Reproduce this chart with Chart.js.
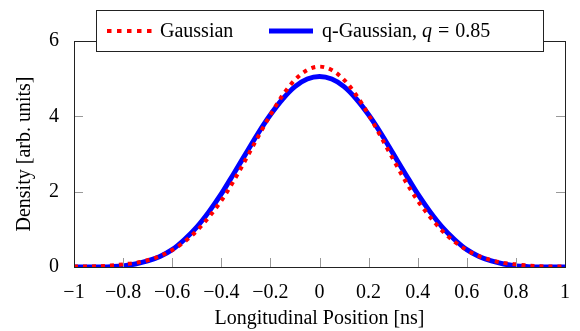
<!DOCTYPE html>
<html><head><meta charset="utf-8">
<script src="https://cdn.jsdelivr.net/npm/chart.js@4.4.1/dist/chart.umd.min.js"></script>
<style>html,body{margin:0;padding:0;background:#fff}#wrap{width:580px;height:331px}</style>
</head><body><div id="wrap"><canvas id="c" width="580" height="331"></canvas></div>
<script>
const positions = [-1, -0.95, -0.9, -0.85, -0.8, -0.75, -0.7, -0.65, -0.6, -0.55, -0.5, -0.45, -0.4, -0.35, -0.3, -0.25, -0.2, -0.15, -0.1, -0.05, 0,
  0.05, 0.1, 0.15, 0.2, 0.25, 0.3, 0.35, 0.4, 0.45, 0.5, 0.55, 0.6, 0.65, 0.7, 0.75, 0.8, 0.85, 0.9, 0.95, 1];
const gaussian = [0.01, 0.01, 0.02, 0.04, 0.07, 0.11, 0.18, 0.29, 0.45, 0.67, 0.96, 1.33, 1.76, 2.28, 2.86, 3.46, 4.04, 4.56, 4.97, 5.23, 5.32,
  5.23, 4.97, 4.56, 4.04, 3.46, 2.86, 2.28, 1.76, 1.33, 0.96, 0.67, 0.45, 0.29, 0.18, 0.11, 0.07, 0.04, 0.02, 0.01, 0.01];
const qGaussian = [0, 0, 0, 0.01, 0.03, 0.08, 0.16, 0.28, 0.46, 0.73, 1.06, 1.47, 1.94, 2.47, 3.01, 3.55, 4.04, 4.46, 4.79, 4.99, 5.06,
  4.99, 4.79, 4.46, 4.04, 3.55, 3.01, 2.47, 1.94, 1.47, 1.06, 0.73, 0.46, 0.28, 0.16, 0.08, 0.03, 0.01, 0, 0, 0];
const xTicks = [-1, -0.8, -0.6, -0.4, -0.2, 0, 0.2, 0.4, 0.6, 0.8, 1];
const yTicks = [0, 2, 4, 6];
const seriesLabels = ['Gaussian', 'q-Gaussian, q = 0.85'];
const xTitle = 'Longitudinal Position [ns]';
const yTitle = 'Density [arb. units]';

const FONT = "'Liberation Serif', 'Times New Roman', serif";
function fmt(v) {
  const r = Math.round(v * 10) / 10;
  if (r === 0) return '0';
  return (r < 0 ? '\u2212' : '') + String(Math.abs(r));
}

const framePlugin = {
  id: 'frameAndLegend',
  afterDatasetsDraw(chart) {
    const { ctx, chartArea: { left, right, top, bottom }, scales: { x, y } } = chart;
    ctx.save();
    ctx.setLineDash([]);
    ctx.lineWidth = 1;
    ctx.strokeStyle = '#999';
    const L = 9;
    xTicks.forEach(v => {
      if (v === xTicks[0] || v === xTicks[xTicks.length - 1]) return;
      const px = Math.round(x.getPixelForValue(v)) + 0.5;
      ctx.beginPath();
      ctx.moveTo(px, bottom); ctx.lineTo(px, bottom - L);
      ctx.moveTo(px, top); ctx.lineTo(px, top + L);
      ctx.stroke();
    });
    yTicks.forEach(v => {
      if (v === yTicks[0] || v === yTicks[yTicks.length - 1]) return;
      const py = Math.round(y.getPixelForValue(v)) + 0.5;
      ctx.beginPath();
      ctx.moveTo(left, py); ctx.lineTo(left + L, py);
      ctx.moveTo(right, py); ctx.lineTo(right - L, py);
      ctx.stroke();
    });
    ctx.strokeStyle = '#222';
    ctx.strokeRect(Math.round(left) + 0.5, Math.round(top) + 0.5, Math.round(right - left), Math.round(bottom - top));

    // legend
    const bx = 96, by = 10, bw = 447, bh = 41;
    ctx.fillStyle = '#fff';
    ctx.fillRect(bx, by, bw, bh);
    ctx.strokeStyle = '#222';
    ctx.strokeRect(bx + 0.5, by + 0.5, bw, bh);
    const ly = 31;
    ctx.lineCap = 'butt';
    ctx.strokeStyle = chart.data.datasets[0].borderColor;
    ctx.lineWidth = 4;
    ctx.setLineDash([4.5, 5.5]);
    ctx.beginPath(); ctx.moveTo(107, ly); ctx.lineTo(152, ly); ctx.stroke();
    ctx.setLineDash([]);
    ctx.strokeStyle = chart.data.datasets[1].borderColor;
    ctx.lineWidth = 5;
    ctx.beginPath(); ctx.moveTo(269, ly); ctx.lineTo(313, ly); ctx.stroke();

    ctx.fillStyle = '#000';
    ctx.textBaseline = 'alphabetic';
    ctx.textAlign = 'left';
    const reg = '20px ' + FONT, ita = 'italic 20px ' + FONT;
    ctx.font = reg;
    ctx.fillText(seriesLabels[0], 160, 37);
    const parts = seriesLabels[1].split(', ');
    const m = parts[1].match(/^(\S+)\s*=\s*(.*)$/);
    const segs = [
      { t: parts[0] + ',', f: reg, gap: 5 },
      { t: m[1], f: ita, gap: 6 },
      { t: '=', f: reg, gap: 6 },
      { t: m[2], f: reg, gap: 0 }
    ];
    let cx = 322;
    segs.forEach(s => {
      ctx.font = s.f;
      ctx.fillText(s.t, cx, 37);
      cx += ctx.measureText(s.t).width + s.gap;
    });
    ctx.restore();
  }
};

new Chart(document.getElementById('c'), {
  type: 'line',
  data: {
    datasets: [
      {
        label: seriesLabels[0],
        data: positions.map((p, i) => ({ x: p, y: gaussian[i] })),
        borderColor: '#ff0000',
        borderWidth: 4,
        borderDash: [4, 5],
        borderCapStyle: 'butt',
        pointRadius: 0,
        cubicInterpolationMode: 'monotone',
        fill: false,
        clip: 0
      },
      {
        label: seriesLabels[1],
        data: positions.map((p, i) => ({ x: p, y: qGaussian[i] })),
        borderColor: '#0000ff',
        borderWidth: 5,
        pointRadius: 0,
        cubicInterpolationMode: 'monotone',
        fill: false,
        clip: 0
      }
    ]
  },
  options: {
    responsive: false,
    animation: false,
    devicePixelRatio: 1,
    layout: { padding: { top: 41, right: 15, left: 0, bottom: 0 } },
    plugins: { legend: { display: false }, tooltip: { enabled: false } },
    scales: {
      x: {
        type: 'linear', min: -1, max: 1,
        afterBuildTicks: s => { s.ticks = xTicks.map(v => ({ value: v })); },
        afterFit: s => { s.height = 64; },
        grid: { display: false },
        border: { display: false },
        ticks: { callback: v => fmt(v), font: { family: FONT, size: 20 }, color: '#000', padding: 6, maxRotation: 0, autoSkip: false },
        title: { display: true, text: xTitle, font: { family: FONT, size: 20 }, color: '#000', padding: { top: 0, bottom: 0 } }
      },
      y: {
        min: 0, max: 6,
        afterBuildTicks: s => { s.ticks = yTicks.map(v => ({ value: v })); },
        afterFit: s => { s.width = 74; },
        grid: { display: false },
        border: { display: false },
        ticks: { callback: v => fmt(v), font: { family: FONT, size: 20 }, color: '#000', padding: 7 },
        title: { display: true, text: yTitle, font: { family: FONT, size: 20 }, color: '#000', padding: { top: 13, bottom: 0 } }
      }
    }
  },
  plugins: [framePlugin]
});
</script>
</body></html>
